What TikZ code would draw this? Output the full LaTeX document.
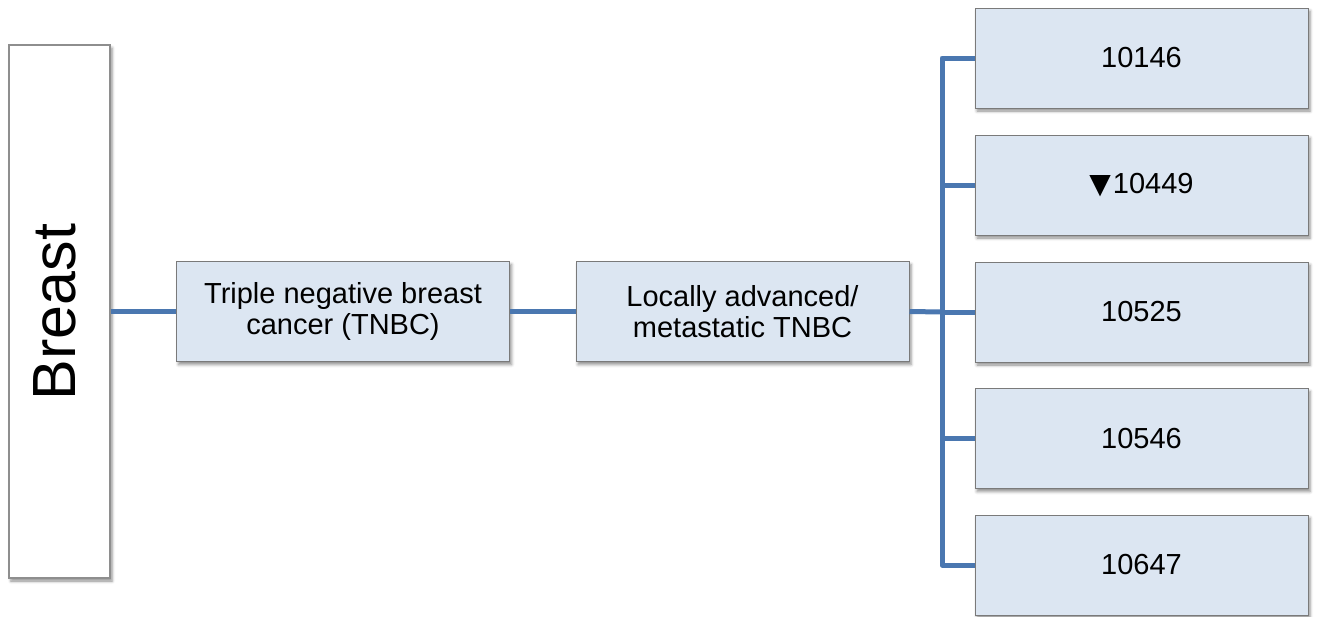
\documentclass[tikz,border=0pt]{standalone}
\usepackage{fontspec}
\setmainfont{Liberation Sans}
\newfontfamily\symfont{DejaVu Sans}
\usetikzlibrary{shadows.blur}
\definecolor{boxfill}{HTML}{DCE6F2}
\definecolor{boxline}{HTML}{7A7A7A}
\definecolor{conn}{HTML}{4A77B0}
\tikzset{
  shade/.style={blur shadow={shadow xshift=2pt,shadow yshift=-3pt,shadow blur radius=3pt,shadow opacity=45}},
  bluebox/.style={draw=boxline,line width=1pt,fill=boxfill,shade,minimum width=333pt,minimum height=100pt,inner sep=0pt,align=center,font=\fontsize{29}{31}\selectfont},
  whitebox/.style={draw=boxline!85,line width=1.6pt,fill=white,shade,minimum width=101pt,minimum height=533pt,inner sep=0pt},
  link/.style={draw=conn,line width=5pt,line join=round}
}
\begin{document}
\begin{tikzpicture}[x=1pt,y=-1pt]
\useasboundingbox (0,0) rectangle (1319,616);
\node[whitebox] (breast) at (59.5,311.5) {};
\node[rotate=90,font=\fontsize{61}{61}\selectfont] (breastlabel) at (55,312) {Breast};
\node[bluebox] (tnbc) at (343,311.5) {Triple negative breast\\cancer (TNBC)};
\node[bluebox] (loc) at (742.5,311.5) {Locally advanced/\\metastatic TNBC};
\node[bluebox] (r1) at (1141.5,58) {10146};
\node[bluebox] (r2) at (1141.5,185) {{\symfont\fontsize{28}{31}\selectfont ▼}\kern2pt 10449};
\node[bluebox] (r3) at (1141.5,312) {10525};
\node[bluebox] (r4) at (1141.5,438.5) {10546};
\node[bluebox] (r5) at (1141.5,565) {10647};
\coordinate (trunk) at (942,312);
\draw[link] (breast.east) -- (tnbc.west);
\draw[link] (tnbc.east) -- (loc.west);
\draw[link] (loc.east) -- (trunk);
\foreach \r in {r1,r2,r3,r4,r5} {\draw[link] (trunk) |- (\r.west);}
\end{tikzpicture}
\end{document}
